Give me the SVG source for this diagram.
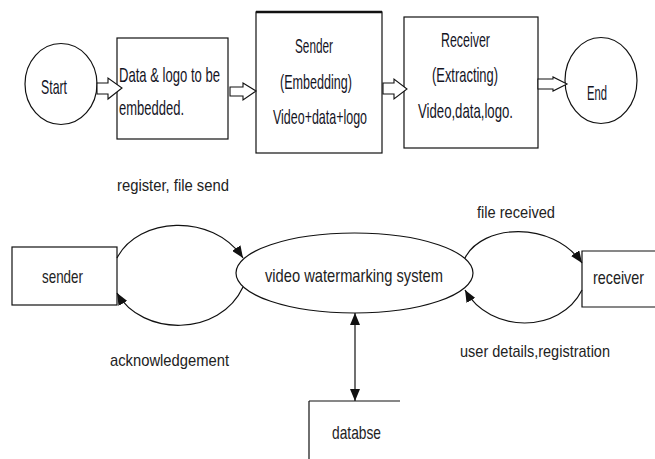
<svg xmlns="http://www.w3.org/2000/svg" width="655" height="459" viewBox="0 0 655 459">
  <style>
    .shape { fill: #fff; stroke: #111; stroke-width: 1.2; }
    .edge { fill: none; stroke: #111; stroke-width: 1.2; }
    .block { fill: #fff; stroke: #111; stroke-width: 1.1; stroke-linejoin: miter; }
    .t1 { font-family: "Liberation Sans", Arial, sans-serif; font-size: 21px; fill: #14141f; }
    .t2 { font-family: "Liberation Sans", Arial, sans-serif; fill: #222; }
  </style>
  <defs>
    <marker id="tri" viewBox="0 0 12 10" refX="12" refY="5" markerWidth="12" markerHeight="10" markerUnits="userSpaceOnUse" orient="auto-start-reverse">
      <path d="M0,0 L12,5 L0,10 Z" fill="#111"/>
    </marker>
  </defs>

  <!-- Flow chart: start to end -->
  <g id="start">
    <ellipse class="shape" cx="61" cy="84" rx="36" ry="40.5"/>
    <text class="t1" x="41" y="94" textLength="26" lengthAdjust="spacingAndGlyphs">Start</text>
  </g>
  <g id="data-logo">
    <rect class="shape" x="117" y="38" width="111" height="101"/>
    <text class="t1" x="119" y="82" textLength="101" lengthAdjust="spacingAndGlyphs">Data &amp; logo to be</text>
    <text class="t1" x="119" y="115" textLength="65" lengthAdjust="spacingAndGlyphs">embedded.</text>
  </g>
  <g id="sender-embedding">
    <rect class="shape" x="256" y="12" width="126" height="141"/>
    <line x1="256" y1="12" x2="382" y2="12" stroke="#111" stroke-width="2.4"/>
    <text class="t1" x="295" y="53" textLength="38" lengthAdjust="spacingAndGlyphs">Sender</text>
    <text class="t1" x="280" y="89" textLength="72" lengthAdjust="spacingAndGlyphs">(Embedding)</text>
    <text class="t1" x="273" y="124" textLength="94" lengthAdjust="spacingAndGlyphs">Video+data+logo</text>
  </g>
  <g id="receiver-extracting">
    <rect class="shape" x="404" y="17" width="134" height="131"/>
    <text class="t1" x="441" y="47" textLength="49" lengthAdjust="spacingAndGlyphs">Receiver</text>
    <text class="t1" x="432" y="82" textLength="66" lengthAdjust="spacingAndGlyphs">(Extracting)</text>
    <text class="t1" x="418" y="118" textLength="95" lengthAdjust="spacingAndGlyphs">Video,data,logo.</text>
  </g>
  <g id="end">
    <ellipse class="shape" cx="601" cy="80.5" rx="36" ry="43"/>
    <text class="t1" x="587" y="100" textLength="20" lengthAdjust="spacingAndGlyphs">End</text>
  </g>

  <!-- Context diagram nodes -->
  <g id="sender">
    <rect class="shape" x="12" y="247" width="105" height="58"/>
    <text class="t2" x="42" y="283" font-size="19" textLength="41" lengthAdjust="spacingAndGlyphs">sender</text>
  </g>
  <g id="system">
    <ellipse class="shape" cx="354.5" cy="273" rx="118.5" ry="40"/>
    <text class="t2" x="265" y="282" font-size="19" textLength="178" lengthAdjust="spacingAndGlyphs">video watermarking system</text>
  </g>
  <g id="receiver">
    <path class="shape" d="M655,251 H582 V307 H655"/>
    <text class="t2" x="593" y="284" font-size="19" textLength="51" lengthAdjust="spacingAndGlyphs">receiver</text>
  </g>
  <g id="database">
    <path class="edge" d="M309,401 H400 M309,401 V460"/>
    <text class="t2" x="332" y="439" font-size="19" textLength="49" lengthAdjust="spacingAndGlyphs">databse</text>
  </g>

  <!-- Connectors -->
  <g id="connectors">
    <polygon class="block" points="97,83 108,83 108,78 122,88 108,99 108,94 97,94"/>
    <polygon class="block" points="230,87 243,87 243,83 256,91 243,100 243,96 230,96"/>
    <polygon class="block" points="383,83 394,83 394,79 407,89 394,99 394,94 383,94"/>
    <polygon class="block" points="538,79 553,79 553,77 567,84 553,91 553,89 538,89"/>

    <path class="edge" d="M117,258 C138,217 212,212 243,258" marker-end="url(#tri)"/>
    <path class="edge" d="M243,287 C220,337 142,337 117,293" marker-end="url(#tri)"/>
    <path class="edge" d="M465,258 C482,224 552,220 582,263" marker-end="url(#tri)"/>
    <path class="edge" d="M582,290 C560,334 490,334 465,290" marker-end="url(#tri)"/>
    <path class="edge" d="M355,313 V401" marker-start="url(#tri)" marker-end="url(#tri)"/>

    <text class="t2" x="117" y="191" font-size="16" textLength="112" lengthAdjust="spacingAndGlyphs">register, file send</text>
    <text class="t2" x="110" y="366" font-size="17" textLength="119" lengthAdjust="spacingAndGlyphs">acknowledgement</text>
    <text class="t2" x="477" y="218" font-size="16" textLength="78" lengthAdjust="spacingAndGlyphs">file received</text>
    <text class="t2" x="460" y="357" font-size="17" textLength="150" lengthAdjust="spacingAndGlyphs">user details,registration</text>
  </g>
</svg>
